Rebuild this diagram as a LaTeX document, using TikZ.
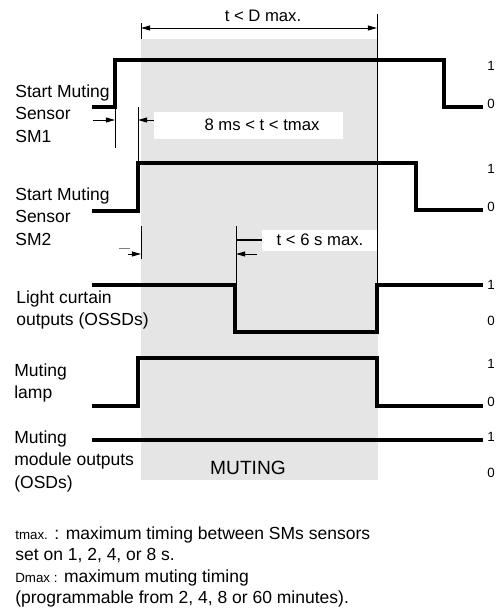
\documentclass[tikz,border=0pt]{standalone}
\usepackage{fontspec}
\setmainfont{Liberation Sans}
\usetikzlibrary{arrows.meta, positioning}

\begin{document}
\begin{tikzpicture}[
    x=0.6pt, y=-0.6pt,
    signal/.style={line width=2.2pt, line join=miter},
    thin line/.style={line width=0.6pt},
    dimarrow/.style={line width=0.6pt, -{Triangle[length=5.5pt, width=3pt]}},
    signame/.style={align=left, anchor=north west, inner sep=0pt,
      font=\fontsize{10.5}{13.6}\selectfont},
    lvl/.style={anchor=base west, inner sep=0pt, font=\fontsize{8}{9}\selectfont},
    dimtext/.style={anchor=base, inner sep=0pt, font=\fontsize{10}{12}\selectfont}
  ]
  \useasboundingbox (0,0) rectangle (501,614);

  % muting window
  \fill[black!10] (141,39) rectangle (378,480);

  % D max dimension
  \coordinate (dl) at (141,28);
  \coordinate (dr) at (377,28);
  \draw[thin line] (141,23) -- (141,39);
  \draw[thin line] (377,14) -- (377,285);
  \draw[dimarrow, {Triangle[length=5.5pt, width=3pt]}-{Triangle[length=5.5pt, width=3pt]}] (dl) -- (dr);
  \node[dimtext] (dmax) at (263,21) {t < D max.};

  % signals
  \draw[signal] (92,107) -- (115,107) -- (115,60) -- (444,60) -- (444,107) -- (483,107);
  \draw[signal] (92,211) -- (138,211) -- (138,163) -- (416,163) -- (416,210) -- (483,210);
  \draw[signal] (92,285) -- (235,285) -- (235,332) -- (377,332) -- (377,285) -- (483,285);
  \draw[signal] (92,406) -- (138,406) -- (138,358) -- (377,358) -- (377,406) -- (483,406);
  \draw[signal] (92,440) -- (483,440);

  % tmax between SM1 and SM2
  \draw[thin line] (115,107) -- (115,148);
  \draw[thin line] (138,107) -- (138,163);
  \coordinate (a1) at (93,120);
  \coordinate (a1e) at (115,120);
  \coordinate (a2) at (155,120);
  \coordinate (a2e) at (138,120);
  \draw[dimarrow] (a1) -- (a1e);
  \draw[dimarrow] (a2) -- (a2e);
  \fill[white] (154,112) rectangle (343,139);
  \node[dimtext] (tgap) at (262,130) {8 ms < t < tmax};

  % 6 s window
  \draw[thin line] (141,226) -- (141,259);
  \draw[black!50, thin line] (119,248) -- (130,248);
  \coordinate (b1) at (128,254);
  \coordinate (b1e) at (141,254);
  \draw[dimarrow] (b1) -- (b1e);
  \draw[thin line] (236,226) -- (236,285);
  \draw[line width=1.2pt] (236,240) -- (262,240);
  \coordinate (b2) at (257,254);
  \coordinate (b2e) at (236,254);
  \draw[dimarrow] (b2) -- (b2e);
  \fill[white] (262,230) rectangle (377,251);
  \node[dimtext] (tsix) at (320,245) {t < 6 s max.};

  % signal names
  \node[signame] (sm1) at (15,84) {Start Muting\\Sensor\\SM1};
  \node[signame] (sm2) at (15,187) {Start Muting\\Sensor\\SM2};
  \node[signame] (lc) at (16,290) {Light curtain\\outputs (OSSDs)};
  \node[signame] (lamp) at (14,363) {Muting\\lamp};
  \node[signame] (osd) at (14,430) {Muting\\module outputs\\(OSDs)};

  % levels
  \node[lvl] (h1) at (487,70) {1};
  \node[lvl] (l1) at (487,108) {0};
  \node[lvl] (h2) at (487,173) {1};
  \node[lvl] (l2) at (487,211) {0};
  \node[lvl] (h3) at (487,289) {1};
  \node[lvl] (l3) at (487,325) {0};
  \node[lvl] (h4) at (487,368) {1};
  \node[lvl] (l4) at (487,406) {0};
  \node[lvl] (h5) at (487,441) {1};
  \node[lvl] (l5) at (487,477) {0};

  \node[anchor=base, inner sep=0pt, font=\fontsize{11.5}{14}\selectfont] (muting) at (248,474) {MUTING};

  % notes
  \node[signame, font=\fontsize{10.5}{12.9}\selectfont] (notes) at (15,526)
    {{\fontsize{8}{9}\selectfont tmax.} : maximum timing between SMs sensors\\
     set on 1, 2, 4, or 8 s.\\
     {\fontsize{8}{9}\selectfont Dmax :} maximum muting timing\\
     (programmable from 2, 4, 8 or 60 minutes).};
\end{tikzpicture}
\end{document}
